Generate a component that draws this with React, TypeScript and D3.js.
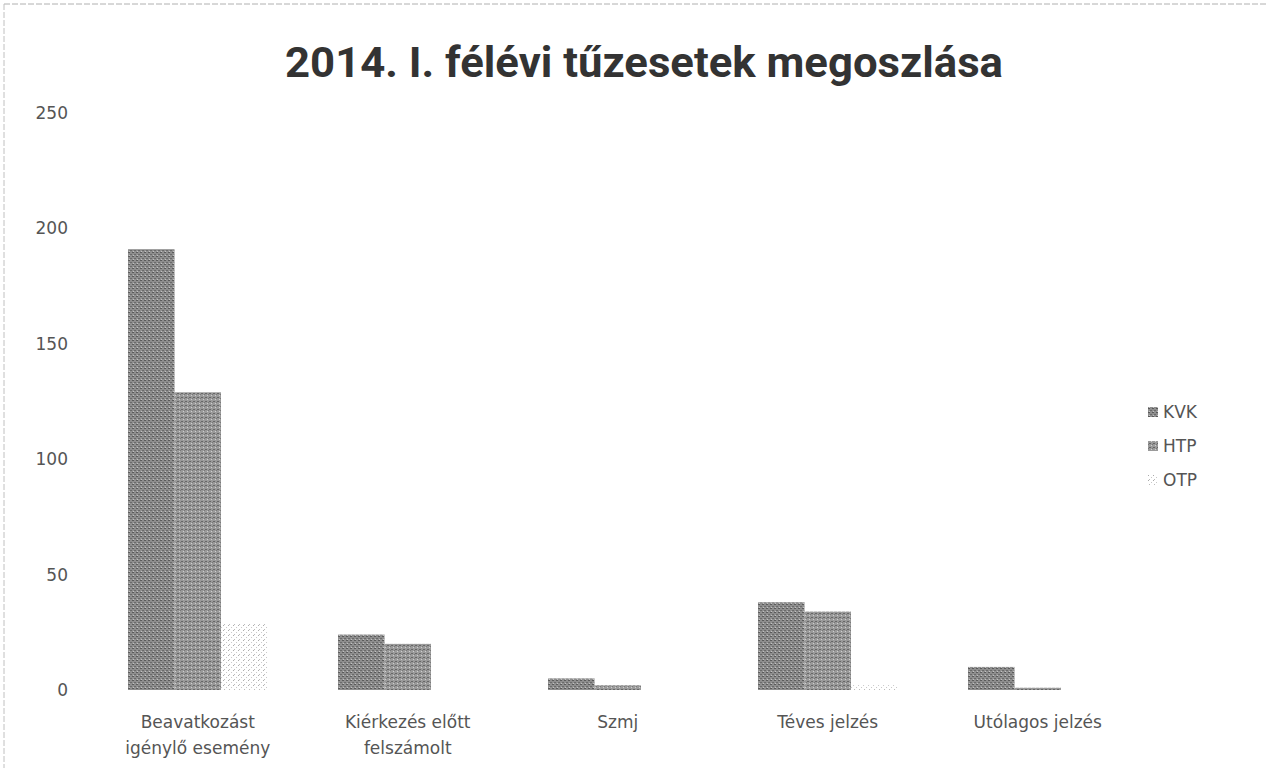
import * as d3 from "d3";

const W = 1268, H = 768;
const categories = [
  ["Beavatkozást", "igénylő esemény"],
  ["Kiérkezés előtt", "felszámolt"],
  ["Szmj"],
  ["Téves jelzés"],
  ["Utólagos jelzés"],
];
const seriesNames = ["KVK", "HTP", "OTP"];
const kvk = [191, 24, 5, 38, 10];
const htp = [129, 20, 2, 34, 1];
const otp = [29, 0, 0, 2, 0];
const yTicks = [0, 50, 100, 150, 200, 250];
const fills = ["url(#pKVK)", "url(#pHTP)", "url(#pOTP)"];

export default function App() {
  const values = [kvk, htp, otp];
  const x = d3.scaleBand<number>().domain(d3.range(categories.length)).range([92.75, 1142.75]).paddingInner(0.336).paddingOuter(0.168);
  const xs = d3.scaleBand<number>().domain([0, 1, 2]).range([0, x.bandwidth()]);
  const y = d3.scaleLinear().domain([0, 250]).range([690, 113]);
  const font = "'DejaVu Sans', Verdana, sans-serif";

  return (
    <svg width={W} height={H} style={{ position: "absolute", left: 0, top: 0, background: "#fff" }}>
      <defs>
        <pattern id="pKVK" width="4" height="4" patternUnits="userSpaceOnUse">
          <rect width="4" height="4" fill="#8e8e8e" />
          <rect x="0" y="0" width="2" height="1" fill="#5a5a5a" />
          <rect x="2" y="2" width="2" height="1" fill="#6a6a6a" />
          <rect x="1" y="3" width="1" height="1" fill="#c4c4c4" />
        </pattern>
        <pattern id="pHTP" width="4" height="4" patternUnits="userSpaceOnUse">
          <rect width="4" height="4" fill="#9a9a9a" />
          <rect x="1" y="1" width="2" height="1" fill="#666" />
          <rect x="3" y="3" width="1" height="1" fill="#d0d0d0" />
          <rect x="0" y="2" width="1" height="1" fill="#777" />
        </pattern>
        <pattern id="pOTP" width="5" height="5" patternUnits="userSpaceOnUse">
          <rect width="5" height="5" fill="#fff" />
          <rect x="0" y="0" width="1" height="1" fill="#aaa" />
          <rect x="3" y="2" width="1" height="1" fill="#c8c8c8" />
          <rect x="1" y="4" width="1" height="1" fill="#bbb" />
        </pattern>
      </defs>

      <line x1={4} y1={4} x2={W} y2={4} stroke="#b0b0b0" strokeWidth={1} strokeDasharray="6 2" />
      <line x1={4} y1={4} x2={4} y2={H} stroke="#c0c0c0" strokeWidth={1} strokeDasharray="6 2" />

      <text x={644} y={77} textAnchor="middle" fontFamily="'Liberation Sans Narrow', Roboto, sans-serif" fontWeight={700} fontSize={42} fill="#333" textLength={718} lengthAdjust="spacingAndGlyphs">
        2014. I. félévi tűzesetek megoszlása
      </text>

      {yTicks.map((t) => (
        <text key={t} x={68} y={y(t)} dy="0.35em" textAnchor="end" fontFamily={font} fontSize={17} fill="#555">
          {t}
        </text>
      ))}

      {categories.map((c, i) => (
        <g key={i} transform={`translate(${x(i)},0)`}>
          {values.map((s, j) => (
            s[i] > 0 ? (
              <rect key={j} x={xs(j)} y={y(s[i])} width={xs.bandwidth()} height={y(0) - y(s[i])} fill={fills[j]} />
            ) : null
          ))}
          {c.map((line, k) => (
            <text key={k} x={x.bandwidth() / 2} y={728 + k * 26} textAnchor="middle" fontFamily={font} fontSize={17} fill="#555">
              {line}
            </text>
          ))}
        </g>
      ))}

      {seriesNames.map((n, j) => (
        <g key={n} transform={`translate(1148,${412 + j * 34})`}>
          <rect x={0} y={-5} width={10} height={10} fill={fills[j]} />
          <text x={15} y={0} dy="0.35em" fontFamily={font} fontSize={17} fill="#555">
            {n}
          </text>
        </g>
      ))}
    </svg>
  );
}
